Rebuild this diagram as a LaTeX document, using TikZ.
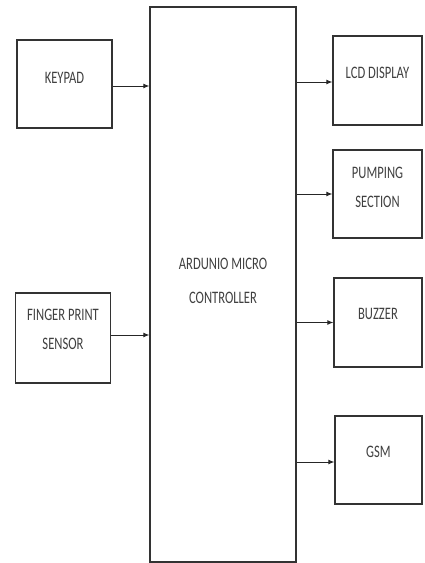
\documentclass[tikz,border=0pt]{standalone}
\usepackage{fontspec}
\setmainfont[FakeStretch=0.72]{Carlito}
\usetikzlibrary{arrows.meta,positioning}
\tikzset{
  box/.style={draw=black!80, line width=1.3pt, align=center, inner sep=0pt, font=\fontsize{17.5}{29}\selectfont, text=black!75},
  unit/.style={box, minimum width=95pt, minimum height=88pt},
  up/.style={text depth=#1},
  arrow/.style={-{Latex[length=6pt,width=5pt]}, line width=0.9pt, black!85},
}

\begin{document}
\begin{tikzpicture}[x=1pt, y=-1pt]
  \useasboundingbox (0,0) rectangle (424,563);
  % Controller
  \node[box, up=7pt, minimum width=146pt, minimum height=555pt, font=\fontsize{17.5}{34}\selectfont] (mcu) at (223,284.5) {ARDUNIO MICRO\\CONTROLLER};

  % Inputs
  \node[unit, up=13pt] (keypad) at (64.5,84) {KEYPAD};
  \node[unit, up=18pt, minimum height=90pt] (finger) at (63,338) {FINGER PRINT\\SENSOR};

  % Outputs
  \node[unit, up=15pt, minimum width=89pt, minimum height=89pt] (lcd) at (377.5,80.5) {LCD DISPLAY};
  \node[unit, up=14pt, minimum width=89pt, minimum height=88pt] (pump) at (377.5,194) {PUMPING\\SECTION};
  \node[unit, up=18pt, minimum width=88pt, minimum height=89pt] (buzzer) at (378,322.5) {BUZZER};
  \node[unit, up=16pt, minimum width=87pt, minimum height=88pt] (gsm) at (378.5,460) {GSM};

  % Arrows
  \draw[arrow] ([yshift=-2pt]keypad.east) -- ([yshift=-2pt]keypad.east -| mcu.west);
  \draw[arrow] ([yshift=3pt]finger.east) -- ([yshift=3pt]finger.east -| mcu.west);
  \draw[arrow] ([yshift=-1.5pt]mcu.east |- lcd.west) -- ([yshift=-1.5pt]lcd.west);
  \draw[arrow] (mcu.east |- pump.west) -- (pump.west);
  \draw[arrow] (mcu.east |- buzzer.west) -- (buzzer.west);
  \draw[arrow] ([yshift=-2pt]mcu.east |- gsm.west) -- ([yshift=-2pt]gsm.west);
\end{tikzpicture}
\end{document}
